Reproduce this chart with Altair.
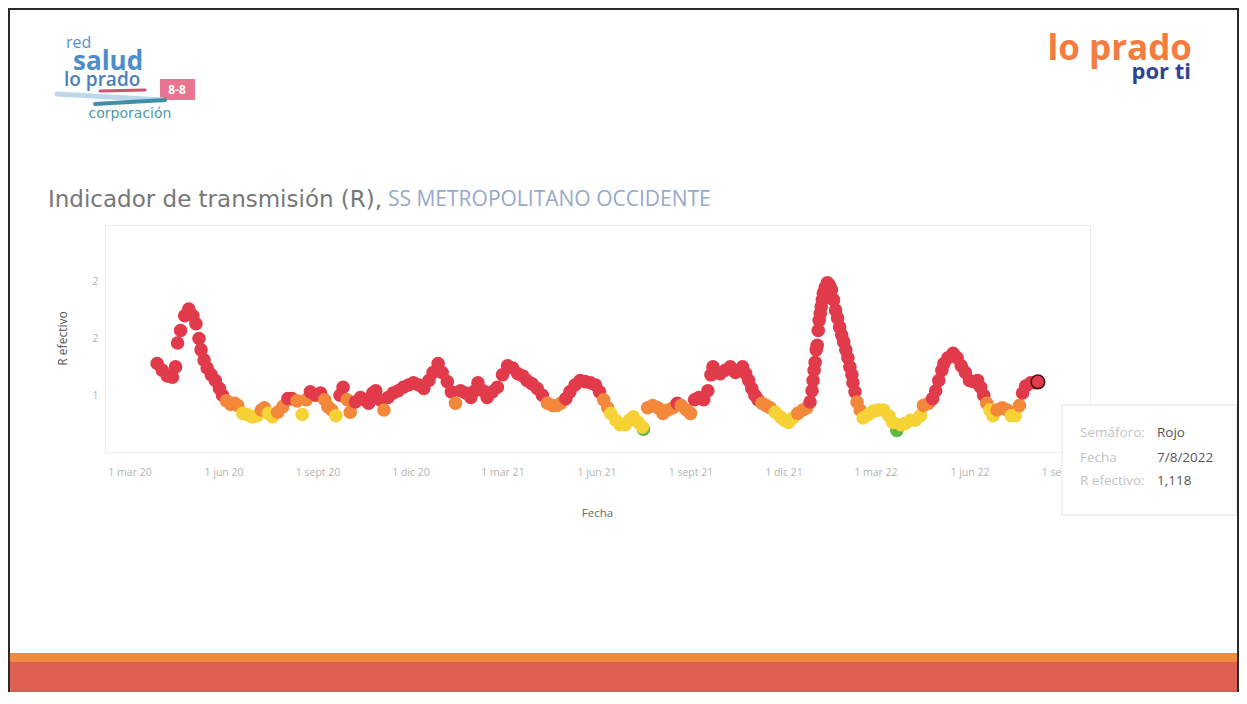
import altair as alt
import pandas as pd

fechas = [
    "2020-03-28", "2020-04-02", "2020-04-07", "2020-04-12", "2020-04-15", "2020-04-17",
    "2020-04-20", "2020-04-24", "2020-04-28", "2020-05-02", "2020-05-05", "2020-05-08",
    "2020-05-10", "2020-05-13", "2020-05-16", "2020-05-20", "2020-05-24", "2020-05-28",
    "2020-05-31", "2020-06-04", "2020-06-08", "2020-06-12", "2020-06-15", "2020-06-20",
    "2020-06-24", "2020-06-29", "2020-07-04", "2020-07-08", "2020-07-11", "2020-07-15",
    "2020-07-19", "2020-07-24", "2020-07-29", "2020-08-03", "2020-08-07", "2020-08-12",
    "2020-08-17", "2020-08-21", "2020-08-25", "2020-08-30", "2020-09-04", "2020-09-08",
    "2020-09-11", "2020-09-15", "2020-09-19", "2020-09-23", "2020-09-26", "2020-09-30",
    "2020-10-03", "2020-10-08", "2020-10-13", "2020-10-17", "2020-10-21", "2020-10-25",
    "2020-10-28", "2020-11-01", "2020-11-05", "2020-11-09", "2020-11-14", "2020-11-19",
    "2020-11-24", "2020-11-29", "2020-12-04", "2020-12-09", "2020-12-14", "2020-12-19",
    "2020-12-23", "2020-12-28", "2021-01-01", "2021-01-06", "2021-01-10", "2021-01-14",
    "2021-01-19", "2021-01-24", "2021-01-29", "2021-02-02", "2021-02-05", "2021-02-10",
    "2021-02-14", "2021-02-19", "2021-02-24", "2021-03-01", "2021-03-06", "2021-03-11",
    "2021-03-16", "2021-03-21", "2021-03-25", "2021-03-30", "2021-04-04", "2021-04-09",
    "2021-04-14", "2021-04-19", "2021-04-23", "2021-04-27", "2021-05-02", "2021-05-06",
    "2021-05-11", "2021-05-16", "2021-05-21", "2021-05-26", "2021-05-31", "2021-06-04",
    "2021-06-08", "2021-06-12", "2021-06-15", "2021-06-20", "2021-06-24", "2021-06-29",
    "2021-07-03", "2021-07-07", "2021-07-12", "2021-07-16", "2021-07-17", "2021-07-21",
    "2021-07-26", "2021-07-31", "2021-08-05", "2021-08-10", "2021-08-15", "2021-08-19",
    "2021-08-23", "2021-08-28", "2021-09-01", "2021-09-05", "2021-09-09", "2021-09-14",
    "2021-09-18", "2021-09-21", "2021-09-23", "2021-09-27", "2021-09-30", "2021-10-05",
    "2021-10-10", "2021-10-15", "2021-10-18", "2021-10-22", "2021-10-25", "2021-10-28",
    "2021-10-31", "2021-11-03", "2021-11-06", "2021-11-10", "2021-11-14", "2021-11-18",
    "2021-11-23", "2021-11-28", "2021-12-02", "2021-12-06", "2021-12-10", "2021-12-15",
    "2021-12-20", "2021-12-24", "2021-12-27", "2021-12-29", "2021-12-30", "2021-12-31",
    "2022-01-01", "2022-01-02", "2022-01-03", "2022-01-04", "2022-01-05", "2022-01-06",
    "2022-01-07", "2022-01-08", "2022-01-09", "2022-01-11", "2022-01-13", "2022-01-15",
    "2022-01-17", "2022-01-19", "2022-01-21", "2022-01-23", "2022-01-25", "2022-01-27",
    "2022-01-29", "2022-01-31", "2022-02-02", "2022-02-04", "2022-02-06", "2022-02-07",
    "2022-02-09", "2022-02-11", "2022-02-14", "2022-02-17", "2022-02-22", "2022-02-27",
    "2022-03-04", "2022-03-09", "2022-03-14", "2022-03-18", "2022-03-22", "2022-03-26",
    "2022-03-30", "2022-04-04", "2022-04-09", "2022-04-14", "2022-04-17", "2022-04-22",
    "2022-04-26", "2022-04-29", "2022-05-02", "2022-05-05", "2022-05-07", "2022-05-11",
    "2022-05-16", "2022-05-20", "2022-05-24", "2022-05-28", "2022-06-01", "2022-06-05",
    "2022-06-09", "2022-06-12", "2022-06-15", "2022-06-18", "2022-06-21", "2022-06-24",
    "2022-06-28", "2022-07-03", "2022-07-08", "2022-07-12", "2022-07-16", "2022-07-20",
    "2022-07-23", "2022-07-26", "2022-07-31", "2022-08-04", "2022-08-07",
]

r_efectivo = [
    1.28, 1.22, 1.17, 1.16, 1.25, 1.46,
    1.57, 1.70, 1.76, 1.70, 1.63, 1.50,
    1.40, 1.31, 1.24, 1.18, 1.13, 1.06,
    1.00, 0.95, 0.92, 0.93, 0.91, 0.84,
    0.83, 0.81, 0.82, 0.87, 0.89, 0.84,
    0.81, 0.85, 0.90, 0.97, 0.97, 0.95,
    0.83, 0.96, 1.03, 1.00, 1.02, 0.96,
    0.90, 0.87, 0.82, 1.00, 1.07, 0.96,
    0.85, 0.94, 0.98, 0.96, 0.93, 1.02,
    1.04, 0.96, 0.87, 0.98, 1.02, 1.04,
    1.07, 1.09, 1.11, 1.09, 1.06, 1.13,
    1.20, 1.28, 1.20, 1.12, 1.03, 0.93,
    1.04, 1.02, 0.98, 1.04, 1.11, 1.04,
    0.98, 1.03, 1.07, 1.18, 1.26, 1.24,
    1.19, 1.17, 1.13, 1.10, 1.06, 1.00,
    0.93, 0.91, 0.91, 0.93, 0.97, 1.03,
    1.09, 1.13, 1.12, 1.11, 1.09, 1.03,
    0.96, 0.89, 0.84, 0.78, 0.74, 0.74,
    0.78, 0.81, 0.76, 0.72, 0.70, 0.89,
    0.91, 0.89, 0.84, 0.87, 0.89, 0.93,
    0.91, 0.87, 0.84, 0.96, 0.98, 0.96,
    1.04, 1.18, 1.25, 1.20, 1.19, 1.22,
    1.25, 1.20, 1.22, 1.25, 1.19, 1.13,
    1.06, 1.00, 0.96, 0.93, 0.91, 0.89,
    0.85, 0.81, 0.78, 0.76, 0.80, 0.84,
    0.87, 0.89, 0.94, 1.04, 1.13, 1.22,
    1.29, 1.40, 1.44, 1.57, 1.66, 1.72,
    1.78, 1.84, 1.90, 1.95, 1.99, 1.97,
    1.93, 1.84, 1.75, 1.68, 1.60, 1.53,
    1.47, 1.40, 1.33, 1.25, 1.18, 1.11,
    1.03, 0.94, 0.87, 0.80, 0.83, 0.86,
    0.87, 0.87, 0.82, 0.76, 0.69, 0.74,
    0.75, 0.78, 0.78, 0.82, 0.91, 0.93,
    0.97, 1.04, 1.13, 1.22, 1.28, 1.33,
    1.37, 1.33, 1.26, 1.20, 1.13, 1.12,
    1.13, 1.07, 1.00, 0.93, 0.87, 0.82,
    0.87, 0.89, 0.87, 0.82, 0.82, 0.91,
    1.02, 1.08, 1.11, 1.11, 1.118,
]

# R = Rojo, N = Naranjo, A = Amarillo, V = Verde
semaforo_cod = [
    "R", "R", "R", "R", "R", "R",
    "R", "R", "R", "R", "R", "R",
    "R", "R", "R", "R", "R", "R",
    "R", "N", "N", "N", "N", "A",
    "A", "A", "A", "N", "N", "A",
    "A", "N", "N", "R", "R", "N",
    "A", "N", "R", "R", "R", "N",
    "N", "N", "A", "R", "R", "N",
    "N", "R", "R", "R", "R", "R",
    "R", "R", "N", "R", "R", "R",
    "R", "R", "R", "R", "R", "R",
    "R", "R", "R", "R", "R", "N",
    "R", "R", "R", "R", "R", "R",
    "R", "R", "R", "R", "R", "R",
    "R", "R", "R", "R", "R", "R",
    "N", "N", "N", "N", "R", "R",
    "R", "R", "R", "R", "R", "R",
    "N", "N", "A", "A", "A", "A",
    "A", "A", "A", "A", "V", "N",
    "N", "N", "N", "N", "N", "R",
    "N", "N", "N", "R", "R", "R",
    "R", "R", "R", "R", "R", "R",
    "R", "R", "R", "R", "R", "R",
    "R", "R", "R", "N", "N", "N",
    "A", "A", "A", "A", "A", "N",
    "N", "N", "R", "R", "R", "R",
    "R", "R", "R", "R", "R", "R",
    "R", "R", "R", "R", "R", "R",
    "R", "R", "R", "R", "R", "R",
    "R", "R", "R", "R", "R", "R",
    "R", "N", "N", "A", "A", "A",
    "A", "A", "A", "A", "V", "A",
    "A", "A", "A", "A", "N", "N",
    "R", "R", "R", "R", "R", "R",
    "R", "R", "R", "R", "R", "R",
    "R", "R", "R", "N", "A", "A",
    "N", "N", "N", "A", "A", "N",
    "R", "R", "R", "R", "R",
]

nombres_semaforo = {"R": "Rojo", "N": "Naranjo", "A": "Amarillo", "V": "Verde"}
orden_semaforo = ["Rojo", "Naranjo", "Amarillo", "Verde"]
colores_semaforo = ["#E13B4B", "#F4883A", "#F6D235", "#5DB846"]

eje_x_fechas = [
    (2020, 3), (2020, 6), (2020, 9), (2020, 12), (2021, 3), (2021, 6),
    (2021, 9), (2021, 12), (2022, 3), (2022, 6), (2022, 9),
]
eje_y_valores = [1, 1.5, 2]

df = pd.DataFrame({
    "Fecha": fechas,
    "R efectivo": r_efectivo,
    "Semáforo": [nombres_semaforo[c] for c in semaforo_cod],
})
# draw the few green points first so the neighbouring points sit on top of them
df = pd.concat([df[df["Semáforo"] == "Verde"], df[df["Semáforo"] != "Verde"]])
df_sel = df[df["Fecha"] == fechas[-1]]

FONT = "Open Sans"
DOT = 185
one = alt.Data(values=[{}])

color_scale = alt.Scale(domain=orden_semaforo, range=colores_semaforo)

x_enc = alt.X(
    "Fecha:T",
    scale=alt.Scale(type="utc",
                    domain=[alt.DateTime(year=2020, month=2, date=6, utc=True),
                            alt.DateTime(year=2022, month=9, date=27, utc=True)]),
    axis=alt.Axis(
        values=[alt.DateTime(year=y, month=m, date=1, utc=True) for y, m in eje_x_fechas],
        labelExpr="'1 ' + ['ene','feb','mar','abr','may','jun','jul','ago','sept','oct','nov','dic'][utcmonth(datum.value)] + ' ' + utcFormat(datum.value, '%y')",
        grid=False, ticks=False, domain=False,
        labelColor="#b3b3b3", labelFontSize=10.5, labelFont=FONT,
        labelPadding=20, labelBaseline="middle", labelOverlap=False,
        title="Fecha", titleColor="#666666", titleFontSize=11.5, titleFont=FONT,
        titleFontWeight="normal", titleX=492, titleY=61, titleBaseline="middle",
    ),
)
y_enc = alt.Y(
    "R efectivo:Q",
    scale=alt.Scale(domain=[0.5, 2.5], nice=False, zero=False),
    axis=alt.Axis(
        values=eje_y_valores, format=".0f", grid=False, ticks=False, domain=False,
        labelColor="#b3b3b3", labelFontSize=10.5, labelFont=FONT, labelPadding=7,
        title="R efectivo", titleColor="#555555", titleFontSize=12, titleFont=FONT,
        titleFontWeight="normal", titleX=-43, titleY=113, titleAngle=-90,
        titleAlign="center", titleBaseline="middle",
    ),
)

points = alt.Chart(df).mark_circle(size=DOT, opacity=1).encode(
    x=x_enc, y=y_enc,
    color=alt.Color("Semáforo:N", scale=color_scale, legend=None),
    tooltip=["Semáforo:N", alt.Tooltip("Fecha:T", format="%-d/%-m/%Y"), "R efectivo:Q"],
)
selected = alt.Chart(df_sel).mark_circle(
    size=DOT, opacity=1, stroke="#4a1616", strokeWidth=1.6
).encode(x="Fecha:T", y="R efectivo:Q",
         color=alt.Color("Semáforo:N", scale=color_scale, legend=None))


def txt(text, x, y, size, color, weight="normal", align="left", font=FONT):
    return alt.Chart(one).mark_text(
        text=text, fontSize=size, color=color, fontWeight=weight,
        align=align, baseline="middle", font=font,
    ).encode(x=alt.value(x), y=alt.value(y))


def box(x, x2, y, y2, fill, stroke=None, sw=0):
    kw = dict(fill=fill)
    if stroke:
        kw.update(stroke=stroke, strokeWidth=sw)
    return alt.Chart(one).mark_rect(**kw).encode(
        x=alt.value(x), x2=alt.value(x2), y=alt.value(y), y2=alt.value(y2))


def seg(x, y, x2, y2, color, width):
    return alt.Chart(one).mark_rule(color=color, strokeWidth=width, strokeCap="round").encode(
        x=alt.value(x), y=alt.value(y), x2=alt.value(x2), y2=alt.value(y2))


layers = [
    # chart title
    txt("Indicador de transmisión (R),", -57, -25, 23, "#777777", font="DejaVu Sans"),
    txt("SS METROPOLITANO OCCIDENTE", 283, -25, 21, "#97a9cb"),
    # left logo
    txt("red", -39, -182, 16, "#5b8fc6"),
    txt("salud", -32, -163, 26, "#4c8dcd", weight="bold"),
    txt("lo prado", -41, -145, 19, "#4a80b9", weight=600),
    box(55, 90, -146, -125, "#e8748f"),
    txt("8-8", 72, -135, 12, "#ffffff", weight="bold", align="center"),
    seg(-48, -131, 58, -125, "#bcd8ea", 5),
    seg(-10, -121, 60, -125, "#3f8fa8", 4),
    seg(-5, -134, 40, -135, "#d64f6e", 3),
    txt("corporación", 25, -111, 14, "#4d98a6", align="center", font="DejaVu Sans"),
    # right logo
    txt("lo prado", 1087, -176, 35, "#f47c3c", weight="bold", align="right"),
    txt("por ti", 1086, -153, 22, "#2d4596", weight="bold", align="right"),
    # data
    points,
    selected,
    # tooltip
    box(957, 1132, 180, 290, "#ffffff", "#e3e3e3", 1),
    txt("Semáforo:", 975, 208, 13.5, "#c4c4c4"),
    txt("Rojo", 1052, 208, 13.5, "#555555"),
    txt("Fecha", 975, 233, 13.5, "#c4c4c4"),
    txt("7/8/2022", 1052, 233, 13.5, "#555555"),
    txt("R efectivo:", 975, 256, 13.5, "#c4c4c4"),
    txt("1,118", 1052, 256, 13.5, "#555555"),
    # bottom band
    box(-97, 1134, 428, 437, "#f08a3f"),
    box(-97, 1134, 437, 480, "#de6055"),
    # slide frame
    alt.Chart(one).mark_rect(fill="transparent", stroke="#2a2a2a", strokeWidth=2).encode(
        x=alt.value(-96), x2=alt.value(1133), y=alt.value(-216), y2=alt.value(480)),
]

chart = alt.layer(*layers).properties(
    width=985, height=227,
    padding={"left": 97, "top": 217, "right": 149, "bottom": 240},
    autosize=alt.AutoSizeParams(type="none"),
    background="#ffffff",
).configure_view(stroke="#ececec")

chart.save("out.html", embed_options={"renderer": "svg", "actions": False})
